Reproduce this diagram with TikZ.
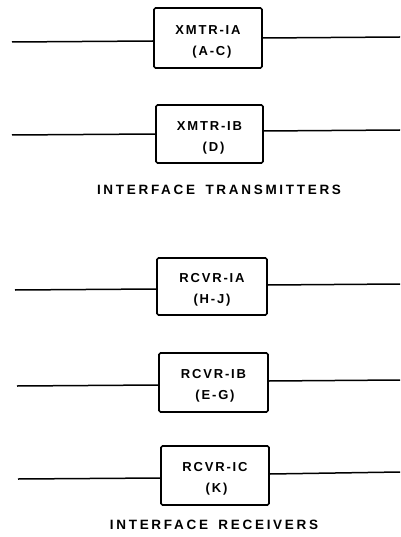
\documentclass[tikz,border=0pt]{standalone}
\usepackage{fontspec}
\setmainfont{Liberation Sans}
\newfontfamily\lblfont[LetterSpace=20]{Liberation Sans Bold}
\newfontfamily\boxfont[LetterSpace=14]{Liberation Sans Bold}
\newcommand{\topstrutx}{\rule{0pt}{16pt}}
\begin{document}
\begin{tikzpicture}[x=1pt,y=-1pt,
  blk/.style={draw, line width=1.6pt, rounded corners=1.5pt, inner sep=0pt, align=center,
    font=\boxfont\fontsize{13}{21}\selectfont},
  wire/.style={line width=1.5pt},
  caption/.style={font=\lblfont\fontsize{13.5}{15}\selectfont}]
\useasboundingbox (0,0) rectangle (400,537);
% boxes
\node[blk, minimum width=108pt, minimum height=60pt] (x1) at (208,38) {\topstrutx XMTR-IA\\\hspace*{8pt}(A-C)};
\node[blk, minimum width=107pt, minimum height=58pt] (x2) at (209.5,134) {\topstrutx XMTR-IB\\\hspace*{8pt}(D)};
\node[caption] (tcap) at (219,190) {INTERFACE\hspace{4pt} TRANSMITTERS};
\node[blk, minimum width=110pt, minimum height=57pt] (r1) at (212,286.5) {\topstrutx RCVR-IA\\(H-J)};
\node[blk, minimum width=109pt, minimum height=59pt] (r2) at (213.5,382.5) {\topstrutx RCVR-IB\\\hspace*{3pt}(E-G)};
\node[blk, minimum width=108pt, minimum height=59pt] (r3) at (215,475.5) {\topstrutx RCVR-IC\\\hspace*{3pt}(K)};
\node[caption] (rcap) at (214,525) {INTERFACE\hspace{4pt} RECEIVERS};
% free ends
\coordinate (x1l) at (12,42);  \coordinate (x1r) at (400,37);
\coordinate (x2l) at (12,135); \coordinate (x2r) at (400,130);
\coordinate (r1l) at (15,290); \coordinate (r1r) at (400,284);
\coordinate (r2l) at (17,386); \coordinate (r2r) at (400,380);
\coordinate (r3l) at (18,479); \coordinate (r3r) at (400,472);
% wires
\draw[wire] (x1l) -- (x1.west |- 0,41);  \draw[wire] (x1.east |- 0,38) -- (x1r);
\draw[wire] (x2l) -- (x2.west |- 0,134); \draw[wire] (x2.east |- 0,131) -- (x2r);
\draw[wire] (r1l) -- (r1.west |- 0,289); \draw[wire] (r1.east |- 0,285) -- (r1r);
\draw[wire] (r2l) -- (r2.west |- 0,385); \draw[wire] (r2.east |- 0,381) -- (r2r);
\draw[wire] (r3l) -- (r3.west |- 0,478); \draw[wire] (r3.east |- 0,474) -- (r3r);
\end{tikzpicture}
\end{document}
